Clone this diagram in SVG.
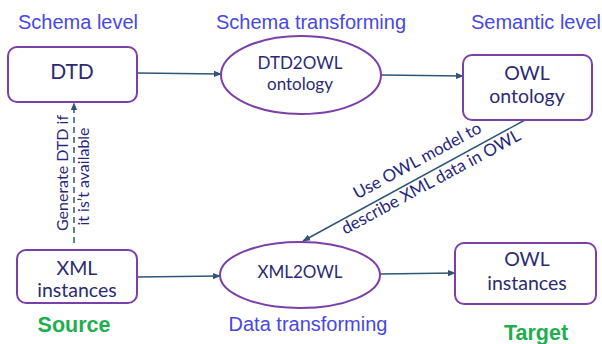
<svg xmlns="http://www.w3.org/2000/svg" width="602" height="344" viewBox="0 0 602 344">
  <style>
    .box { fill: #ffffff; stroke: #7b3fa8; stroke-width: 2; }
    .lbl { font-family: Lato, "Liberation Sans", sans-serif; fill: #2b2b72; text-anchor: middle; }
    .hdr { font-family: "Liberation Sans", Arial, sans-serif; font-size: 20px; fill: #4848e2; text-anchor: middle; }
    .role { font-family: "Liberation Sans", Arial, sans-serif; font-size: 21.5px; font-weight: bold; fill: #1fae4e; text-anchor: middle; }
    .conn { stroke: #2f5577; stroke-width: 1.5; fill: none; }
    .note { font-family: Lato, "Liberation Sans", sans-serif; fill: #27277a; text-anchor: middle; }
  </style>
  <defs>
    <marker id="arrow" viewBox="0 0 10 10" refX="9" refY="5" markerWidth="8" markerHeight="8" orient="auto-start-reverse" markerUnits="userSpaceOnUse">
      <path d="M0,1 L10,5 L0,9 z" fill="#2f5577"/>
    </marker>
  </defs>
  <rect width="602" height="344" fill="#ffffff"/>

  <!-- level / stage headings -->
  <text class="hdr" x="78" y="29">Schema level</text>
  <text class="hdr" x="311" y="29">Schema transforming</text>
  <text class="hdr" x="536" y="29">Semantic level</text>
  <text class="hdr" x="308" y="331">Data transforming</text>
  <text class="role" x="74" y="332">Source</text>
  <text class="role" x="536" y="340">Target</text>

  <!-- connectors -->
  <g id="connectors">
    <line class="conn" x1="137" y1="73" x2="221" y2="74" marker-end="url(#arrow)"/>
    <line class="conn" x1="381" y1="75" x2="463" y2="76" marker-end="url(#arrow)"/>
    <line class="conn" x1="137" y1="277" x2="220" y2="276" marker-end="url(#arrow)"/>
    <line class="conn" x1="380" y1="274" x2="455" y2="273" marker-end="url(#arrow)"/>
    <line class="conn" x1="525" y1="120" x2="303" y2="241" marker-end="url(#arrow)"/>
    <line class="conn" x1="74" y1="243" x2="74" y2="103" stroke-dasharray="6,4" marker-end="url(#arrow)"/>
    <text class="note" font-size="16" transform="translate(68,173) rotate(-90)">Generate DTD if</text>
    <text class="note" font-size="16" transform="translate(89,176.5) rotate(-90)">it is’t available</text>
    <text class="note" font-size="17" transform="translate(420,165.5) rotate(-28.4)">Use OWL model to</text>
    <text class="note" font-size="17" transform="translate(433.5,187) rotate(-28.4)">describe XML data in OWL</text>
  </g>

  <g id="dtd">
    <rect class="box" x="8" y="47" width="129" height="55" rx="9"/>
    <text class="lbl" x="72" y="79" font-size="21">DTD</text>
  </g>
  <g id="dtd2owl">
    <ellipse class="box" cx="301" cy="75" rx="80" ry="39"/>
    <text class="lbl" x="300" y="69" font-size="17">DTD2OWL</text>
    <text class="lbl" x="300" y="90" font-size="17">ontology</text>
  </g>
  <g id="owl-ontology">
    <rect class="box" x="463" y="55" width="129" height="65" rx="9"/>
    <text class="lbl" x="527" y="80" font-size="19.5">OWL</text>
    <text class="lbl" x="527" y="103" font-size="19.5">ontology</text>
  </g>
  <g id="xml-instances">
    <rect class="box" x="17" y="250" width="120" height="53" rx="9"/>
    <text class="lbl" x="77" y="275" font-size="19.5">XML</text>
    <text class="lbl" x="77" y="297" font-size="19.5">instances</text>
  </g>
  <g id="xml2owl">
    <ellipse class="box" cx="300" cy="275" rx="80" ry="33"/>
    <text class="lbl" x="300" y="278" font-size="17">XML2OWL</text>
  </g>
  <g id="owl-instances">
    <rect class="box" x="455" y="243" width="141" height="61" rx="9"/>
    <text class="lbl" x="527" y="266" font-size="19.5">OWL</text>
    <text class="lbl" x="527" y="290" font-size="19.5">instances</text>
  </g>
</svg>
